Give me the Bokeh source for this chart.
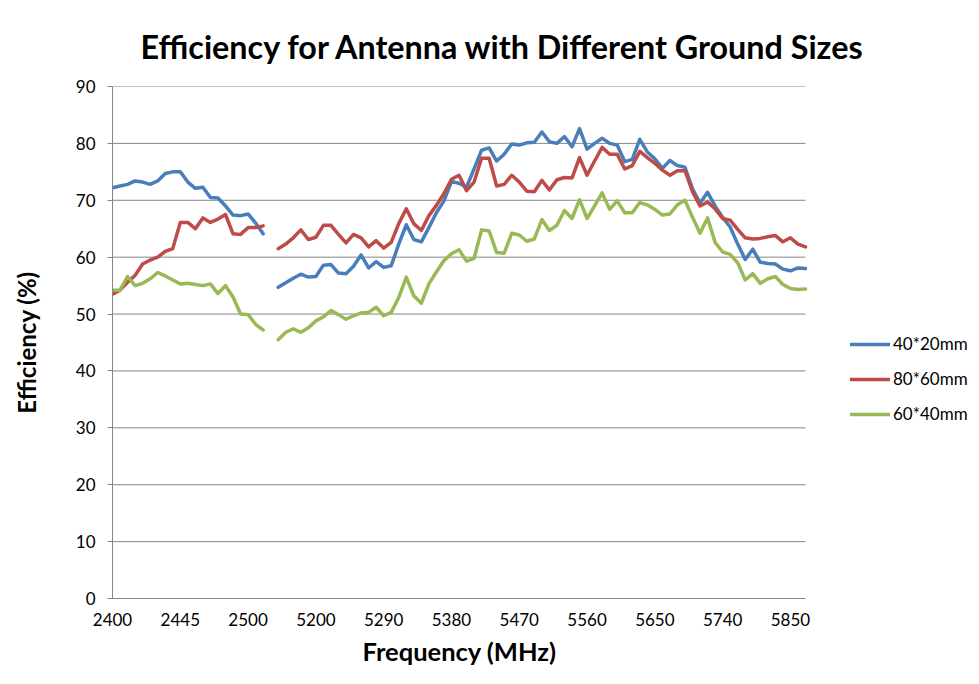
from bokeh.plotting import figure
from bokeh.models import Range1d, FixedTicker, Legend, LegendItem, Title
from bokeh.embed import file_html
from bokeh.resources import INLINE

NaN = float("nan")

# tick labels shown every 9th category (category index 21 is the empty gap)
freq_tick_labels = ["2400", "2445", "2500", "5200", "5290", "5380",
                    "5470", "5560", "5650", "5740", "5850"]
label_step = 9
n_categories = 93

series_names = ["40*20mm", "80*60mm", "60*40mm"]

eff_40x20 = [72.2, 72.5, 72.8, 73.4, 73.2, 72.8, 73.4, 74.7, 75.0, 75.0,
             73.2, 72.1, 72.3, 70.5, 70.4, 69.0, 67.4, 67.3, 67.6, 66.0, 64.1,
             NaN,
             54.7, 55.5, 56.3, 57.0, 56.5, 56.6, 58.6, 58.7, 57.2,
             57.1, 58.4, 60.4, 58.1, 59.2, 58.2, 58.5, 62.3, 65.7, 63.1,
             62.7, 65.2, 67.8, 69.9, 73.3,
             73.0, 72.3, 75.5, 78.8, 79.2, 76.9, 78.1, 79.9, 79.7, 80.1,
             80.2, 82.0, 80.3, 80.0, 81.2,
             79.4, 82.6, 79.0, 80.0, 80.9, 80.0, 79.7, 76.8, 77.2, 80.7,
             78.5, 77.3, 75.6, 77.0, 76.1,
             75.8, 72.0, 69.5, 71.4, 69.0, 67.0, 65.3, 62.3, 59.6, 61.4,
             59.1, 58.9, 58.8, 57.9, 57.6, 58.1, 58.0]

eff_80x60 = [53.5, 54.2, 55.6, 56.8, 58.8, 59.5, 60.0, 61.0, 61.5, 66.1,
             66.1, 65.0, 66.9, 66.1, 66.7, 67.5, 64.1, 64.0, 65.2, 65.2, 65.5,
             NaN,
             61.5, 62.3, 63.4, 64.8, 63.1, 63.5, 65.6, 65.6, 64.0,
             62.5, 64.0, 63.4, 61.8, 62.9, 61.6, 62.6, 65.9, 68.5, 65.9,
             64.7, 67.3, 69.1, 71.2, 73.7,
             74.4, 71.7, 73.2, 77.4, 77.4, 72.5, 72.8, 74.4, 73.2, 71.6,
             71.5, 73.5, 71.8, 73.6, 74.0,
             73.9, 77.5, 74.4, 76.9, 79.3, 78.1, 78.1, 75.5, 76.1, 78.6,
             77.5, 76.5, 75.3, 74.4, 75.2,
             75.2, 71.5, 69.0, 69.7, 68.5, 66.8, 66.5, 64.9, 63.4, 63.2,
             63.3, 63.6, 63.8, 62.7, 63.4, 62.3, 61.8]

eff_60x40 = [54.2, 54.2, 56.6, 55.0, 55.4, 56.2, 57.3, 56.7, 56.0, 55.3,
             55.4, 55.2, 55.0, 55.3, 53.6, 55.0, 53.0, 50.0, 49.9, 48.2, 47.2,
             NaN,
             45.5, 46.8, 47.4, 46.8, 47.6, 48.8, 49.5, 50.6, 49.9,
             49.1, 49.7, 50.2, 50.3, 51.2, 49.7, 50.3, 52.9, 56.5, 53.2,
             51.9, 55.3, 57.4, 59.4, 60.6,
             61.3, 59.3, 59.8, 64.8, 64.6, 60.8, 60.7, 64.2, 63.9, 62.8,
             63.2, 66.6, 64.7, 65.6, 68.2,
             66.8, 70.1, 66.8, 69.0, 71.3, 68.4, 69.9, 67.8, 67.8, 69.6,
             69.2, 68.4, 67.4, 67.6, 69.2,
             70.0, 67.0, 64.2, 66.9, 62.6, 60.9, 60.5, 59.0, 56.0, 57.1,
             55.4, 56.2, 56.6, 55.2, 54.5, 54.3, 54.4]

y_ticks = list(range(0, 91, 10))

colors = ["#4A7EBB", "#BE4B48", "#98B954"]
FONT = "Lato"
GRAY = "#868686"

x_idx = list(range(n_categories))
x_last = n_categories - 1

# layout: plotted area 693 px wide, frame continues further right
# (the legend lives there, un-clipped)
LEFT = 112
PLOT_W = 693
EXTRA_W = 170
x_end = x_last * (PLOT_W + EXTRA_W) / PLOT_W

p = figure(width=LEFT + PLOT_W + EXTRA_W, height=680, output_backend="svg",
           toolbar_location=None,
           x_range=Range1d(0, x_end), y_range=Range1d(0, 90),
           min_border_left=LEFT, min_border_right=0,
           min_border_top=86, min_border_bottom=82)

p.title.text = "Efficiency for Antenna with Different Ground Sizes"
p.title.text_font = FONT
p.title.text_font_style = "bold"
p.title.text_font_size = "32.3px"
p.title.text_color = "#000000"
p.title.align = "left"
p.title.offset = 28
p.title.standoff = 41

p.outline_line_color = None
p.background_fill_color = "white"
p.border_fill_color = "white"

# grid lines only across the plotted categories
p.xgrid.grid_line_color = None
p.ygrid.grid_line_color = None
p.segment(x0=[0] * len(y_ticks), y0=y_ticks, x1=[x_last] * len(y_ticks), y1=y_ticks,
          line_color=GRAY, line_width=1)

# x axis
tick_pos = list(range(0, n_categories, label_step))
p.xaxis.ticker = FixedTicker(ticks=tick_pos)
p.xaxis.bounds = (0, x_last)
p.xaxis.major_label_overrides = {pos: lab for pos, lab in zip(tick_pos, freq_tick_labels)}
p.xaxis.major_tick_line_color = None
p.xaxis.minor_tick_line_color = None
p.xaxis.axis_line_color = GRAY
p.xaxis.axis_line_width = 1
p.xaxis.major_label_text_font = FONT
p.xaxis.major_label_text_font_size = "17px"
p.xaxis.major_label_text_color = "#000000"
p.xaxis.major_label_standoff = 8

x_title = Title(text="Frequency  (MHz)", align="left", offset=250,
                text_font=FONT, text_font_style="bold", text_font_size="25.5px",
                text_color="#000000", standoff=11)
p.add_layout(x_title, "below")

# y axis
p.yaxis.ticker = FixedTicker(ticks=y_ticks)
p.yaxis.major_tick_out = 5
p.yaxis.major_tick_in = 0
p.yaxis.major_tick_line_color = GRAY
p.yaxis.minor_tick_line_color = None
p.yaxis.axis_line_color = GRAY
p.yaxis.major_label_text_font = FONT
p.yaxis.major_label_text_font_size = "17px"
p.yaxis.major_label_text_color = "#000000"
p.yaxis.major_label_standoff = 12
p.yaxis.axis_label = "Efficiency (%)"
p.yaxis.axis_label_text_font = FONT
p.yaxis.axis_label_text_font_style = "bold"
p.yaxis.axis_label_text_font_size = "24px"
p.yaxis.axis_label_text_color = "#000000"
p.yaxis.axis_label_standoff = 32

renderers = []
for vals, col in zip([eff_40x20, eff_80x60, eff_60x40], colors):
    r = p.line(x_idx, vals, line_color=col, line_width=3.5,
               line_join="round", line_cap="round")
    renderers.append(r)

legend = Legend(items=[LegendItem(label=n, renderers=[r]) for n, r in zip(series_names, renderers)],
                location=(738, 174))
legend.border_line_color = None
legend.background_fill_alpha = 0
legend.padding = 0
legend.margin = 0
legend.spacing = 14
legend.glyph_width = 40
legend.glyph_height = 20
legend.label_height = 20
legend.label_standoff = 3
legend.label_text_font = FONT
legend.label_text_font_size = "17px"
legend.label_text_color = "#000000"
p.add_layout(legend)

open("out.html", "w").write(file_html(p, INLINE))
